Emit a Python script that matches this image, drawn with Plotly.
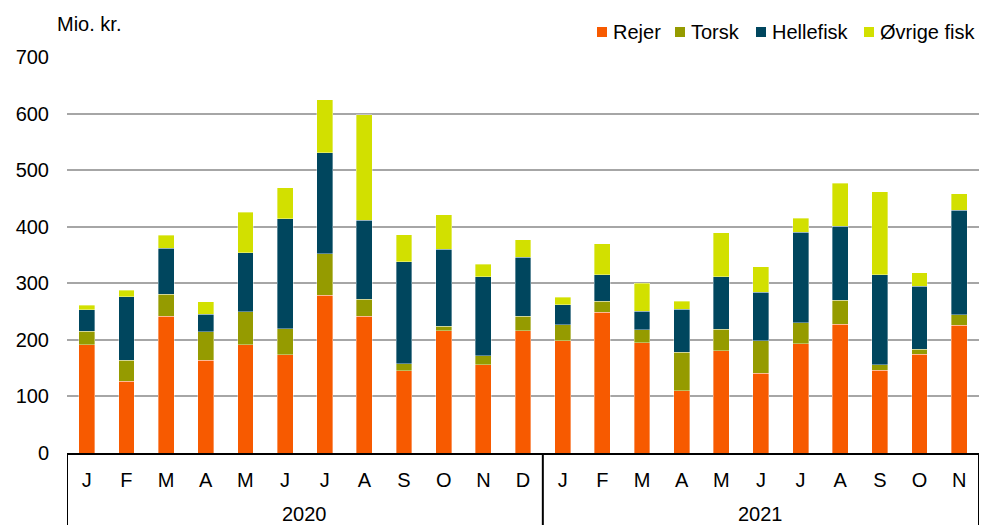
import plotly.graph_objects as go

years = ["2020", "2021"]
year_counts = [12, 11]
months = ["J", "F", "M", "A", "M", "J", "J", "A", "S", "O", "N", "D",
          "J", "F", "M", "A", "M", "J", "J", "A", "S", "O", "N"]

rejer = [191, 127, 242, 164, 191, 174, 279, 242, 145, 216, 156, 216,
         198, 249, 195, 110, 181, 141, 193, 228, 146, 175, 226]
torsk = [24, 37, 39, 50, 59, 46, 73, 30, 13, 8, 16, 26,
         29, 19, 23, 68, 38, 57, 37, 42, 10, 8, 18]
hellefisk = [38, 112, 81, 31, 104, 194, 179, 139, 180, 136, 140, 104,
             35, 47, 33, 76, 93, 86, 160, 131, 159, 112, 185]
ovrige = [8, 12, 23, 22, 72, 55, 93, 187, 48, 61, 22, 31,
          13, 55, 49, 14, 77, 45, 25, 76, 147, 24, 29]

series = [
    ("Rejer", rejer, "#F75A00"),
    ("Torsk", torsk, "#959B00"),
    ("Hellefisk", hellefisk, "#00465E"),
    ("Øvrige fisk", ovrige, "#D2E000"),
]

W, H = 981, 525
ML, MR, MT, MB = 67, 2, 57, 72
PW, PH = W - ML - MR, H - MT - MB


def px2paper_x(px):
    return (px - ML) / PW


def py2paper_y(py):
    return (H - MB - py) / PH


xpos = list(range(len(months)))
fig = go.Figure()
for name, vals, col in series:
    fig.add_trace(go.Bar(
        x=xpos, y=vals, name=name, showlegend=False,
        marker=dict(color=col, line=dict(color="rgba(255,255,255,0.6)", width=0.6)),
    ))

FS = 20
font = dict(family="Liberation Sans, Arial, sans-serif", size=FS, color="#000000")

# x-axis group boxes
bounds = [-0.5]
for c in year_counts:
    bounds.append(bounds[-1] + c)
shapes = [dict(type="line", xref="x", yref="paper", x0=b, x1=b, y0=0, y1=-0.2,
               line=dict(color="#000000", width=2)) for b in bounds]
annotations = [dict(text=yr, xref="x", yref="paper", x=(bounds[i] + bounds[i + 1]) / 2,
                    y=py2paper_y(514), yanchor="middle", showarrow=False, font=font)
               for i, yr in enumerate(years)]
annotations.append(dict(text="Mio. kr.", xref="paper", yref="paper", x=px2paper_x(55),
                        y=py2paper_y(24), xanchor="left", yanchor="middle",
                        showarrow=False, font=font))

# legend (drawn as squares + text to match the compact original layout)
legend_text_x = [612, 690, 771, 879]
legend_y = 32
for (name, _, col), tx in zip(series, legend_text_x):
    shapes.append(dict(type="rect", xref="paper", yref="paper",
                       x0=px2paper_x(tx - 15), x1=px2paper_x(tx - 5),
                       y0=py2paper_y(legend_y + 5), y1=py2paper_y(legend_y - 5),
                       fillcolor=col, line=dict(width=0)))
    annotations.append(dict(text=name, xref="paper", yref="paper", x=px2paper_x(tx - 1),
                            y=py2paper_y(legend_y), xanchor="left", yanchor="middle",
                            showarrow=False, font=font))

fig.update_layout(
    barmode="stack",
    bargap=0.6,
    width=W, height=H,
    margin=dict(l=ML, r=MR, t=MT, b=MB),
    plot_bgcolor="white", paper_bgcolor="white",
    font=font,
    showlegend=False,
    shapes=shapes,
    annotations=annotations,
)
fig.update_yaxes(range=[0, 700], dtick=100, showgrid=True, gridcolor="#A6A6A6", gridwidth=2,
                 zeroline=False, showline=False, ticks="", ticklabelstandoff=17,
                 automargin=False)
fig.update_xaxes(range=[-0.5, len(months) - 0.5], tickmode="array", tickvals=xpos,
                 ticktext=months, showline=True, linecolor="#000000", linewidth=2,
                 showgrid=False, zeroline=False, ticks="", ticklabelstandoff=8,
                 tickfont=font, automargin=False)
fig.write_html("out.html", config={"displayModeBar": False},
               post_script="document.body.style.margin='0';document.body.style.padding='0';")
